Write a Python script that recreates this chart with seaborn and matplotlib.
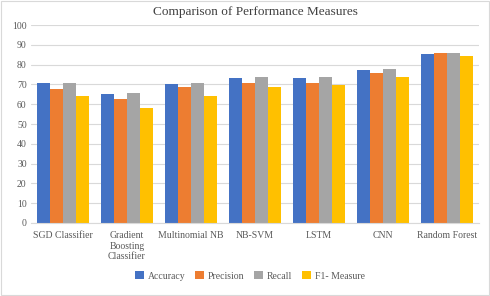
import matplotlib
matplotlib.use("Agg")
import matplotlib.pyplot as plt
import seaborn as sns
import pandas as pd
from matplotlib.patches import Rectangle

categories = ["SGD Classifier", "Gradient\nBoosting\nClassifier", "Multinomial NB",
              "NB-SVM", "LSTM", "CNN", "Random Forest"]
accuracy = [70.7, 65.3, 70.4, 73.4, 73.5, 77.4, 85.2]
precision = [67.8, 62.8, 68.7, 70.9, 70.9, 75.9, 85.9]
recall = [71.0, 65.8, 70.9, 73.7, 73.7, 77.8, 85.9]
f1 = [64.0, 57.9, 64.0, 68.8, 69.8, 73.9, 84.6]
series = ["Accuracy", "Precision", "Recall", "F1- Measure"]
colors = ["#4472C4", "#ED7D31", "#A5A5A5", "#FFC000"]

rows = []
for name, vals in zip(series, [accuracy, precision, recall, f1]):
    for c, v in zip(categories, vals):
        rows.append({"Model": c, "Measure": name, "Value": v})
df = pd.DataFrame(rows)

sns.set_style("white")
plt.rcParams["font.family"] = ["Liberation Serif", "DejaVu Serif"]

fig = plt.figure(figsize=(4.9, 2.96), dpi=100)
ax = fig.add_axes([0.063, 0.247, 0.915, 0.668])
sns.barplot(data=df, x="Model", y="Value", hue="Measure", order=categories,
            hue_order=series, palette=colors, width=0.81, saturation=1,
            linewidth=0, ax=ax, legend=True)

ax.set_ylim(0, 100)
ax.set_yticks(range(0, 101, 10))
ax.tick_params(axis="both", length=0, labelsize=7, labelcolor="#595959", pad=3)
ax.tick_params(axis="x", pad=6)
ax.yaxis.grid(True, color="#D9D9D9", linewidth=0.8)
ax.set_axisbelow(True)
for s in ["left", "right", "top"]:
    ax.spines[s].set_visible(False)
ax.spines["bottom"].set_color("#D9D9D9")
ax.set_xlabel("")
ax.set_ylabel("")
ax.set_title("Comparison of Performance Measures", fontsize=9.5, color="#404040", pad=7)

handles, labels = ax.get_legend_handles_labels()
ax.get_legend().remove()
fig.legend(handles, labels, loc="center", bbox_to_anchor=(0.51, 0.068), ncol=4, frameon=False,
           fontsize=7, handlelength=0.9, handleheight=0.9, columnspacing=1.0,
           handletextpad=0.4, labelcolor="#595959")

fig.patches.append(Rectangle((0.002, 0.003), 0.996, 0.994, transform=fig.transFigure,
                             fill=False, edgecolor="#D9D9D9", linewidth=0.8))
fig.savefig("out.png", dpi=100)
